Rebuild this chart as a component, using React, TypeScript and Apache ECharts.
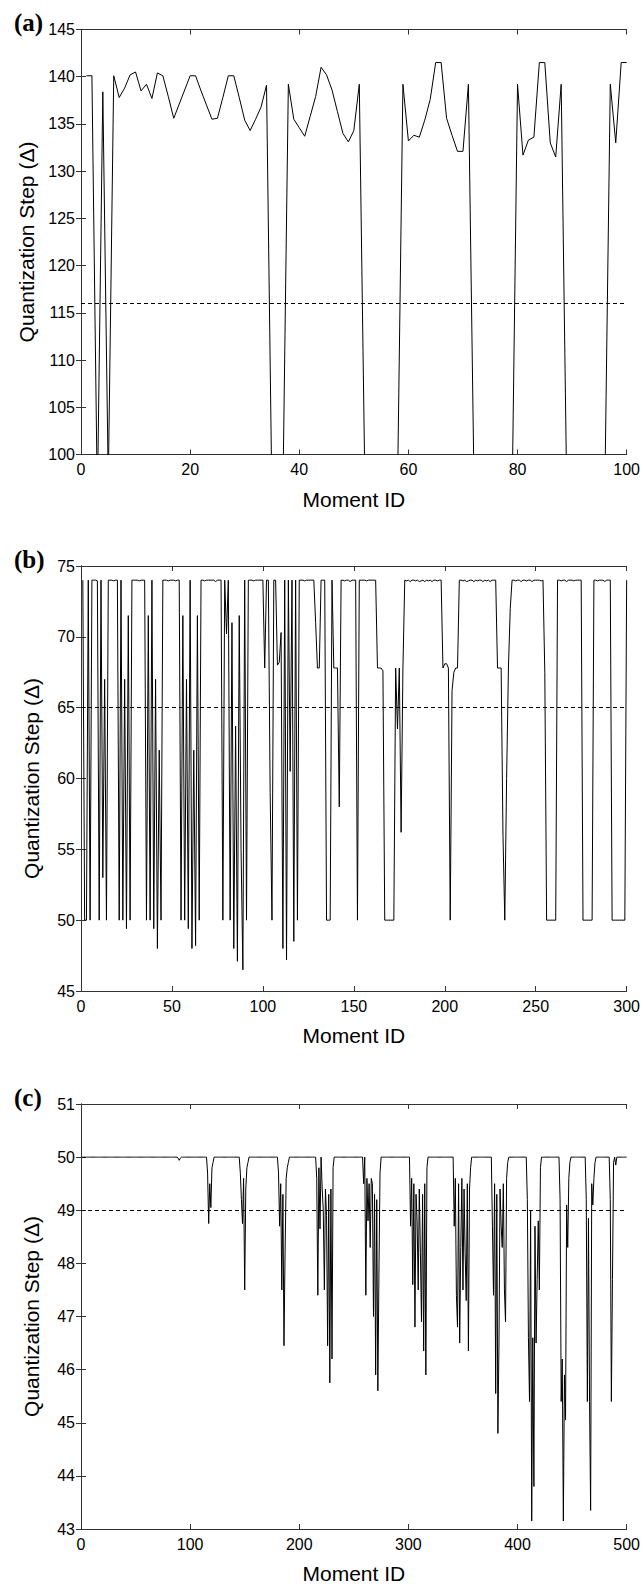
import React, { useEffect, useRef } from "react";
import * as echarts from "echarts";

// ---------- data ----------
const A_VALUES = [
  140.1, 140.1, 95, 138.4, 97, 140.1, 137.8, 138.8, 140.2, 140.5,
  138.5, 139.2, 137.7, 140.4, 140.1, 137.9, 135.6, 137.1, 138.6, 140.1,
  140.1, 138.5, 137.0, 135.5, 135.6, 137.8, 140.1, 140.1, 137.8, 135.4,
  134.3, 135.5, 136.8, 139.1, 95, 90, 96, 139.2, 135.5, 134.6,
  133.7, 135.8, 137.9, 141.0, 140.2, 138.6, 136.3, 134.0, 133.1, 134.3,
  139.2, 98, 90, 90, 90, 90, 90, 96, 139.2, 133.2,
  133.8, 133.6, 135.4, 137.6, 141.5, 141.5, 135.6, 133.8, 132.1, 132.1,
  139.2, 98, 90, 90, 90, 90, 90, 95, 95, 139.2,
  131.7, 133.3, 133.6, 141.5, 141.5, 133.0, 131.5, 139.2, 97, 90,
  90, 90, 90, 90, 90, 96, 139.2, 133.0, 141.5, 141.5,
];

const B_VALUES = [
  74, 50, 50, 74, 50, 74, 74, 74, 73.95, 50,
  74, 53, 67, 50, 74, 74, 74, 73.95, 74, 74,
  50, 74, 50, 67, 49.4, 71.5, 50, 74, 74, 74,
  74, 73.95, 74, 74, 74, 50, 71.5, 50, 74, 49.4,
  67, 48, 62, 50, 74, 74, 74, 73.95, 74, 74,
  74, 73.95, 74, 74, 50, 71.5, 50, 67, 49.4, 74,
  48, 62, 48.2, 71.5, 50, 74, 74, 73.95, 74, 74,
  74, 74, 74, 73.9, 74, 74, 74, 50, 74, 70.2,
  74, 50, 71, 48, 63.7, 47.1, 71.5, 55, 46.5, 74,
  50, 74, 74, 74, 73.95, 74, 74, 74, 74, 74,
  67.8, 74, 74, 59, 50, 74, 74, 68, 68.2, 70.3,
  48, 74, 47.2, 74, 60.5, 74, 48.5, 74, 50, 74,
  74, 74, 73.95, 74, 74, 74, 74, 74, 71, 67.8,
  67.8, 74, 74, 74, 50, 50, 50, 74, 67.8, 67.8,
  67.8, 58, 74, 74, 73.95, 74, 74, 73.9, 74, 74,
  74, 50, 74, 74, 74, 74, 73.95, 74, 74, 74,
  74, 74, 67.8, 67.8, 67.8, 67.6, 50, 50, 50, 50,
  50, 50, 67.8, 63.5, 67.8, 56.2, 67.8, 74, 73.95, 74,
  73.9, 74, 74, 73.95, 74, 73.9, 73.95, 74, 73.9, 74,
  73.95, 74, 73.9, 74, 74, 73.95, 74, 74, 67.8, 68.1,
  68.1, 67.8, 50, 66.2, 67.5, 67.8, 67.8, 74, 74, 73.95,
  74, 73.9, 73.95, 74, 74, 73.9, 74, 73.95, 74, 74,
  73.9, 74, 73.95, 74, 73.9, 74, 74, 74, 67.8, 67.8,
  67.8, 56, 50, 60, 67.8, 72, 74, 74, 73.95, 74,
  74, 73.9, 74, 74, 73.95, 74, 74, 73.9, 74, 74,
  74, 74, 73.95, 74, 67.5, 50, 50, 50, 50, 50,
  50, 74, 74, 73.95, 74, 74, 73.9, 74, 74, 74,
  73.95, 74, 74, 74, 74, 50, 50, 50, 50, 50,
  50, 74, 74, 73.95, 74, 74, 74, 73.9, 74, 74,
  74, 50, 50, 50, 50, 50, 50, 50, 50, 74,
];

const C_VALUES = [
  50, 50, 50, 50, 50, 50, 50, 50, 50, 50,
  50, 50, 50, 50, 50, 50, 50, 50, 50, 50,
  50, 50, 50, 50, 50, 50, 50, 50, 50, 50,
  50, 50, 50, 50, 50, 50, 50, 50, 50, 50,
  50, 50, 50, 50, 50, 50, 50, 50, 50, 50,
  50, 50, 50, 50, 50, 50, 50, 50, 50, 50,
  50, 50, 50, 50, 50, 50, 50, 50, 50, 50,
  50, 50, 50, 50, 50, 50, 50, 50, 50, 50,
  50, 50, 50, 50, 50, 50, 50, 50, 49.98, 49.94,
  49.98, 50, 50, 50, 50, 50, 50, 50, 50, 50,
  50, 50, 50, 50, 50, 50, 50, 50, 50, 50,
  50, 50, 50, 50, 50, 49.7, 48.75, 49.5, 49.05, 49.8,
  49.9, 50, 50, 50, 50, 50, 50, 50, 50, 50,
  50, 50, 50, 50, 50, 50, 50, 50, 50, 50,
  50, 50, 50, 50, 50, 49.7, 49.2, 48.75, 49.6, 47.5,
  49.4, 49.8, 49.9, 50, 50, 50, 50, 50, 50, 50,
  50, 50, 50, 50, 50, 50, 50, 50, 50, 50,
  50, 50, 50, 50, 50, 50, 50, 50, 50, 50,
  49.7, 48.7, 49.5, 47.5, 49.3, 46.45, 48.2, 49.6, 49.8, 49.9,
  50, 50, 50, 50, 50, 50, 50, 50, 50, 50,
  50, 50, 50, 50, 50, 50, 50, 50, 50, 50,
  50, 50, 50, 50, 50, 49.6, 47.4, 49.8, 48.65, 50,
  49.4, 49.0, 47.5, 49.4, 48.9, 46.45, 49.3, 45.75, 49.4, 46.2,
  49.8, 50, 50, 50, 50, 50, 50, 50, 50, 50,
  50, 50, 50, 50, 50, 50, 50, 50, 50, 50,
  50, 50, 50, 50, 50, 50, 50, 50, 49.5, 50,
  47.4, 49.6, 48.8, 49.5, 48.3, 49.6, 49.5, 47.0, 49.3, 45.9,
  49.2, 45.6, 47.8, 49.7, 50, 50, 50, 50, 50, 50,
  50, 50, 50, 50, 50, 50, 50, 50, 50, 50,
  50, 50, 50, 50, 50, 50, 50, 50, 50, 50,
  50, 48.7, 49.6, 47.6, 49.5, 46.8, 49.3, 48.8, 47.5, 49.4,
  48.2, 46.9, 49.3, 46.35, 49.5, 45.9, 49.8, 50, 50, 50,
  50, 50, 50, 50, 50, 50, 50, 50, 50, 50,
  50, 50, 50, 50, 50, 50, 50, 50, 50, 50,
  50, 48.7, 49.6, 47.4, 46.8, 49.5, 46.5, 48.3, 49.6, 47.5,
  49.4, 48.2, 47.3, 49.5, 46.35, 49.4, 49.8, 50, 50, 50,
  50, 50, 50, 50, 50, 50, 50, 50, 50, 50,
  50, 50, 50, 50, 50, 50, 48.7, 47.4, 49.5, 45.55,
  49.3, 44.8, 46.5, 49.4, 48.7, 48.3, 49.5, 47.5, 46.9, 49.6,
  49.9, 50, 50, 50, 50, 50, 50, 50, 50, 50,
  50, 50, 50, 50, 50, 50, 50, 50, 49.2, 46.6,
  45.4, 49.0, 43.15, 46.6, 43.8, 48.7, 46.5, 47.7, 48.8, 47.5,
  49.8, 50, 50, 50, 50, 50, 50, 50, 50, 50,
  50, 50, 50, 50, 50, 50, 50, 50, 49.2, 45.4,
  46.2, 43.15, 45.9, 45.05, 49.1, 48.3, 49.6, 49.9, 50, 50,
  50, 50, 50, 50, 50, 50, 50, 50, 50, 50,
  50, 50, 49.2, 45.4, 48.85, 45.4, 43.35, 49.5, 49.1, 49.6,
  49.9, 50, 50, 50, 50, 50, 50, 50, 50, 50,
  50, 50, 50, 50, 49.2, 45.4, 47.7, 49.9, 50, 49.85,
  50, 50, 50, 50, 50, 50, 50, 50, 50, 50,
];

const THRESHOLDS = [116, 65, 49];
const PANEL_LABELS = ["(a)", "(b)", "(c)"];
const X_MAX = [100, 300, 500];
const X_INTERVAL = [20, 50, 100];
const Y_MIN = [100, 45, 43];
const Y_MAX = [145, 75, 51];
const Y_INTERVAL = [5, 5, 1];
const X_NAME = "Moment ID";
const Y_NAME = "Quantization Step (Δ)";

// ---------- layout ----------
const W = 643;
const H = 1592;
const PLOT_LEFT = 81;
const PLOT_WIDTH = 546;
const PLOT_HEIGHT = 425;
const PLOT_TOPS = [29.5, 566, 1104];
const FONT = '"Liberation Sans", Arial, Helvetica, sans-serif';
const BOX = "#333333";

export default function App() {
  const ref = useRef<HTMLDivElement>(null);

  useEffect(() => {
    document.body.style.margin = "0";
    if (!ref.current) return;
    const chart = echarts.init(ref.current, undefined, { renderer: "svg" });

    const seriesValues = [A_VALUES, B_VALUES, C_VALUES];
    const grid: any[] = [];
    const xAxis: any[] = [];
    const yAxis: any[] = [];
    const series: any[] = [];
    const graphic: any[] = [];

    const lineCommon = { show: true, lineStyle: { color: BOX, width: 1 } };
    const tickCommon = { show: true, inside: true, length: 5, lineStyle: { color: BOX, width: 1 } };

    for (let i = 0; i < 3; i++) {
      grid.push({ left: PLOT_LEFT, top: PLOT_TOPS[i], width: PLOT_WIDTH, height: PLOT_HEIGHT });
      const xBase = {
        gridIndex: i,
        type: "value",
        min: 0,
        max: X_MAX[i],
        interval: X_INTERVAL[i],
        axisLine: lineCommon,
        axisTick: tickCommon,
        splitLine: { show: false },
      };
      xAxis.push({
        ...xBase,
        position: "bottom",
        axisLabel: { color: "#000", fontSize: 16, fontFamily: FONT, margin: 7 },
        name: X_NAME,
        nameLocation: "middle",
        nameGap: 34,
        nameTextStyle: { color: "#000", fontSize: 21, fontFamily: FONT },
      });
      xAxis.push({ ...xBase, position: "top", axisLabel: { show: false } });

      const yBase = {
        gridIndex: i,
        type: "value",
        min: Y_MIN[i],
        max: Y_MAX[i],
        interval: Y_INTERVAL[i],
        axisLine: lineCommon,
        axisTick: tickCommon,
        splitLine: { show: false },
      };
      yAxis.push({
        ...yBase,
        position: "left",
        axisLabel: { color: "#000", fontSize: 16, fontFamily: FONT, margin: 6 },
        name: Y_NAME,
        nameLocation: "middle",
        nameGap: 39,
        nameTextStyle: { color: "#000", fontSize: 21, fontFamily: FONT },
      });
      yAxis.push({ ...yBase, position: "right", axisLabel: { show: false } });

      series.push({
        type: "line",
        xAxisIndex: 2 * i,
        yAxisIndex: 2 * i,
        data: seriesValues[i].map((v, k) => [k + 1, v]),
        symbol: "none",
        clip: true,
        silent: true,
        lineStyle: { color: "#000", width: 1 },
        markLine: {
          symbol: "none",
          silent: true,
          label: { show: false },
          lineStyle: { color: "#000", width: 1, type: [4, 3] },
          data: [{ yAxis: THRESHOLDS[i] }],
        },
      });

      graphic.push({
        type: "text",
        x: 14,
        y: PLOT_TOPS[i] - 7,
        style: {
          text: PANEL_LABELS[i],
          fill: "#000",
          font: 'bold 25px "Liberation Serif", "Times New Roman", serif',
          verticalAlign: "middle",
          align: "left",
        },
      });
    }

    chart.setOption({
      animation: false,
      backgroundColor: "#fff",
      grid,
      xAxis,
      yAxis,
      series,
      graphic,
    });

    return () => chart.dispose();
  }, []);

  return (
    <div
      ref={ref}
      style={{ position: "absolute", left: 0, top: 0, width: W, height: H }}
    />
  );
}
